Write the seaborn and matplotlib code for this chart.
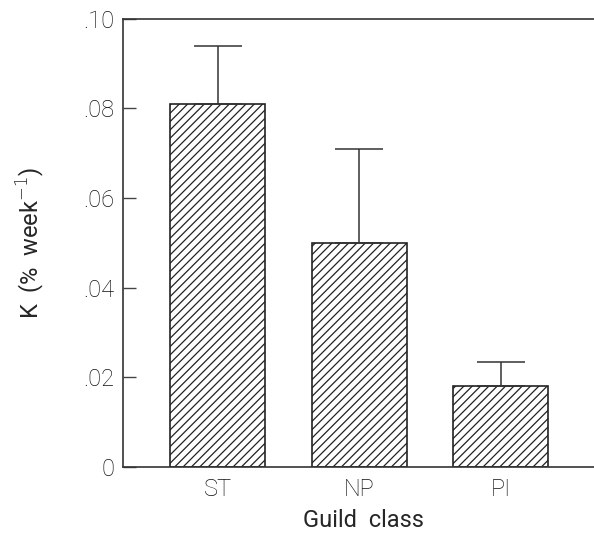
import matplotlib

matplotlib.use('Agg')
import matplotlib.pyplot as plt
import seaborn as sns
from matplotlib.ticker import FuncFormatter

# values
guilds = ['ST', 'NP', 'PI']
k_rate = [0.081, 0.050, 0.018]
k_err = [0.013, 0.021, 0.0055]
y_ticks = [0, 0.02, 0.04, 0.06, 0.08, 0.10]

sns.set_style('ticks')
plt.rcParams['font.family'] = ['Roboto', 'DejaVu Sans']
plt.rcParams['font.weight'] = 'light'
plt.rcParams['text.color'] = '#111111'
plt.rcParams['hatch.linewidth'] = 0.9
plt.rcParams['hatch.color'] = '#222222'

fig = plt.figure(figsize=(5.94, 5.36), dpi=100)
ax = fig.add_axes([0.207, 0.129, 0.81, 0.836])

sns.barplot(x=guilds, y=k_rate, color='white', edgecolor='#222222',
            linewidth=1.2, hatch='////', width=0.67, errorbar=None, ax=ax)

# only the upper half of the error bar is drawn
ax.errorbar(ax.get_xticks(), k_rate, yerr=[[0] * len(k_err), k_err],
            fmt='none', ecolor='#333333', elinewidth=1.1, capsize=17,
            capthick=1.1, zorder=1)

ax.set_xlim(-0.67, 2.73)
ax.set_ylim(0, 0.10)
ax.set_yticks(y_ticks)
ax.yaxis.set_major_formatter(FuncFormatter(
    lambda v, p: '0' if v == 0 else ('%.2f' % v).lstrip('0')))

ax.tick_params(axis='y', direction='in', length=9, width=1, color='#444444',
               labelsize=17, pad=6, labelcolor='#111111')
ax.tick_params(axis='x', direction='in', length=6, width=1, color='#888888',
               labelsize=17, pad=8, labelcolor='#111111')

for side in ['left', 'top', 'bottom']:
    ax.spines[side].set_color('#333333')
    ax.spines[side].set_linewidth(1.2)
ax.spines['right'].set_visible(False)

ax.set_xlabel('Guild  class', fontsize=17, labelpad=6)
ax.set_ylabel('K  (%  week$^{-1}$)', fontsize=17, labelpad=26)

fig.savefig('out.png', dpi=100)
